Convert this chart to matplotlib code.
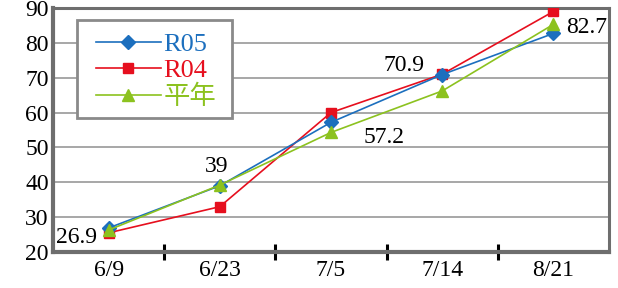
import numpy as np
import matplotlib.pyplot as plt
from matplotlib.ticker import FixedLocator
from matplotlib.patches import Rectangle

dates = ['6/9', '6/23', '7/5', '7/14', '8/21']
r05 = [26.9, 39.0, 57.2, 70.9, 82.7]
r04 = [25.5, 33.0, 60.0, 71.0, 89.0]
heinen = [26.3, 39.2, 54.3, 66.2, 85.3]
labels = ['R05', 'R04', '平年']

blue = '#1c6fbe'
red = '#e60f1e'
green = '#8cc21f'
frame = '#6e6e6e'
fonts = ['Liberation Serif', 'Noto Sans CJK JP']

fig = plt.figure(figsize=(6.18, 2.88), dpi=100)
ax = fig.add_axes([53/618, 36/288, 556/618, 244/288])

x = np.arange(len(dates))
ax.plot(x, r05, color=blue, lw=1.2, marker='D', ms=7, label=labels[0], zorder=4)
ax.plot(x, r04, color=red, lw=1.2, marker='s', ms=7, label=labels[1], zorder=3)
ax.plot(x, heinen, color=green, lw=1.2, marker='^', ms=8, label=labels[2], zorder=5)

# value labels for R05
fs = 17
ax.text(x[0] - 0.1, r05[0] - 2.6, '26.9', ha='right', va='center', fontsize=fs, family=fonts)
ax.text(x[1] - 0.03, r05[1] + 5.5, '39', ha='center', va='center', fontsize=fs, family=fonts)
ax.text(x[2] + 0.29, r05[2] - 4.3, '57.2', ha='left', va='center', fontsize=fs, family=fonts)
ax.text(x[3] - 0.16, r05[3] + 2.5, '70.9', ha='right', va='center', fontsize=fs, family=fonts)
ax.text(x[4] + 0.11, r05[4] + 1.6, '82.7', ha='left', va='center', fontsize=fs, family=fonts)

ax.set_xlim(-0.5, len(dates) - 0.5)
ax.set_ylim(20, 90)
ax.set_yticks(range(20, 91, 10))
ax.set_xticks(x)
ax.set_xticklabels(dates)
ax.xaxis.set_minor_locator(FixedLocator(x[:-1] + 0.5))
ax.tick_params(axis='x', which='major', length=0, pad=6)
ax.tick_params(axis='x', which='minor', direction='inout', length=12, width=2.2, color='black')
ax.tick_params(axis='y', length=0, pad=3)
for lab in ax.get_xticklabels() + ax.get_yticklabels():
    lab.set_family(fonts)
    lab.set_fontsize(17)

ax.grid(axis='y', color='#a0a0a0', lw=1.3)
ax.set_axisbelow(True)
for side in ['left', 'bottom']:
    ax.spines[side].set_linewidth(3)
    ax.spines[side].set_color(frame)
for side in ['top', 'right']:
    ax.spines[side].set_linewidth(2.2)
    ax.spines[side].set_color(frame)

# legend box drawn by hand so the side padding can be wider than the top one
ax.add_patch(Rectangle((0.0432, 0.549), 0.279, 0.402, transform=ax.transAxes,
                       facecolor='white', edgecolor='#8a8a8a', lw=2, zorder=6))
leg = ax.legend(loc='upper left', bbox_to_anchor=(0.0773, 0.90), borderaxespad=0,
                frameon=False, handlelength=2.45, handletextpad=0.1, borderpad=0,
                labelspacing=0.1, prop={'family': fonts, 'size': 19})
leg.set_zorder(7)
for txt, c in zip(leg.get_texts(), [blue, red, green]):
    txt.set_color(c)

plt.savefig('out.png', dpi=100)
